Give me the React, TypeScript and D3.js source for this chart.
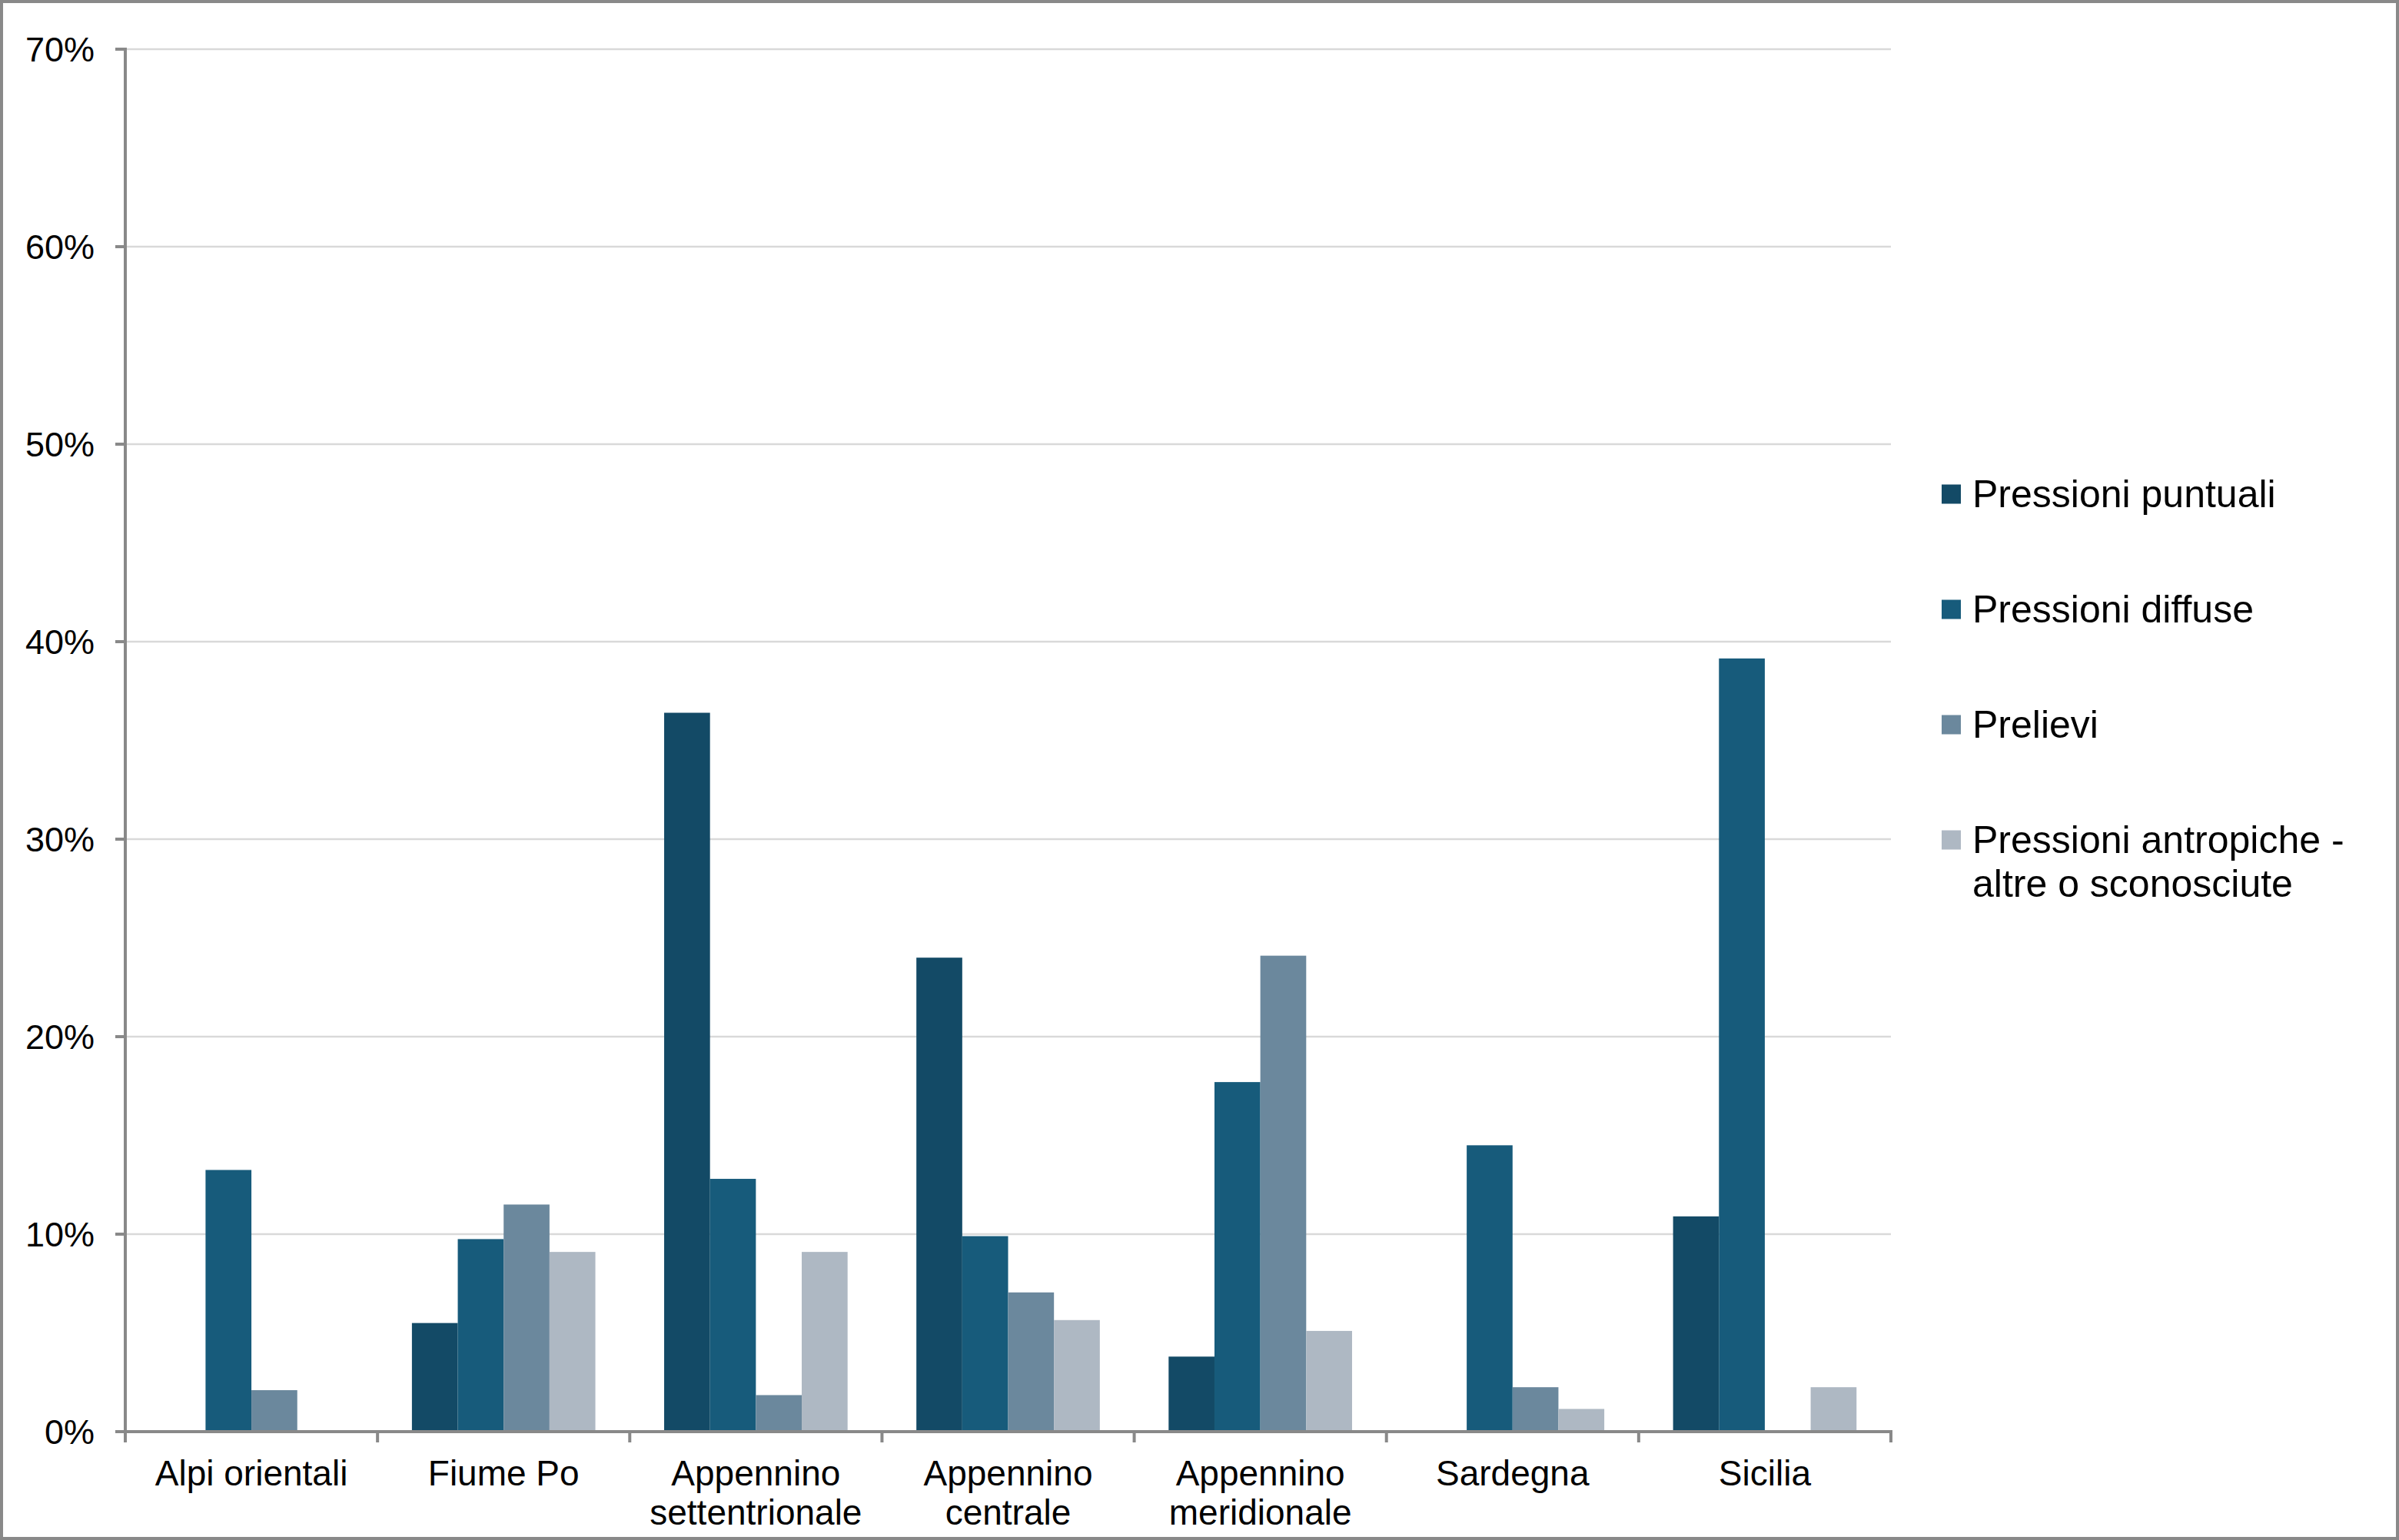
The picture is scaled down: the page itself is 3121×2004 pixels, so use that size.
import React from "react";
import * as d3 from "d3";

const categories: string[][] = [
  ["Alpi orientali"],
  ["Fiume Po"],
  ["Appennino", "settentrionale"],
  ["Appennino", "centrale"],
  ["Appennino", "meridionale"],
  ["Sardegna"],
  ["Sicilia"],
];

const seriesNames: string[][] = [
  ["Pressioni puntuali"],
  ["Pressioni diffuse"],
  ["Prelievi"],
  ["Pressioni antropiche -", "altre o sconosciute"],
];

const puntuali = [0, 5.5, 36.4, 24.0, 3.8, 0, 10.9];
const diffuse = [13.25, 9.75, 12.8, 9.9, 17.7, 14.5, 39.15];
const prelievi = [2.1, 11.5, 1.85, 7.05, 24.1, 2.25, 0];
const altre = [0, 9.1, 9.1, 5.65, 5.1, 1.15, 2.25];

const yTicks = [0, 10, 20, 30, 40, 50, 60, 70];
const colors = ["#134a66", "#175b7b", "#6b889d", "#aeb8c3"];

const W = 3121;
const H = 2004;
const FONT = "'Liberation Sans', Arial, sans-serif";

export default function App() {
  const series = [puntuali, diffuse, prelievi, altre];
  const left = 163;
  const right = 2460;
  const top = 64;
  const bottom = 1863;

  const x = d3
    .scaleBand<number>()
    .domain(d3.range(categories.length))
    .range([left, right])
    .paddingInner(0)
    .paddingOuter(0);
  const groupW = x.bandwidth();
  const barW = groupW / 5.5;
  const gap = (groupW - 4 * barW) / 2;
  const y = d3.scaleLinear().domain([0, 70]).range([bottom, top]);

  return (
    <svg
      width={W}
      height={H}
      style={{ position: "absolute", left: 0, top: 0, background: "#fff" }}
      fontFamily={FONT}
    >
      <rect x={0} y={0} width={W} height={H} fill="#fff" />
      {yTicks
        .filter((t) => t > 0)
        .map((t) => (
          <line
            key={"g" + t}
            x1={left}
            x2={right}
            y1={y(t)}
            y2={y(t)}
            stroke="#d9d9d9"
            strokeWidth={2.5}
          />
        ))}
      {series.map((vals, si) =>
        vals.map((v, ci) =>
          v > 0 ? (
            <rect
              key={`b${si}-${ci}`}
              x={(x(ci) as number) + gap + si * barW}
              y={y(v)}
              width={barW}
              height={bottom - y(v)}
              fill={colors[si]}
            />
          ) : null
        )
      )}
      {/* y axis */}
      <line x1={left} x2={left} y1={top - 2} y2={bottom + 2} stroke="#898989" strokeWidth={4} />
      {yTicks.map((t) => (
        <g key={"t" + t}>
          <line x1={left - 13} x2={left} y1={y(t)} y2={y(t)} stroke="#898989" strokeWidth={4} />
          <text
            x={123}
            y={y(t)}
            textAnchor="end"
            dominantBaseline="central"
            fontSize={45}
            fill="#000"
          >
            {t}%
          </text>
        </g>
      ))}
      {/* x axis */}
      <line x1={left - 2} x2={right + 2} y1={bottom} y2={bottom} stroke="#898989" strokeWidth={4} />
      {d3.range(categories.length + 1).map((i) => {
        const xx = left + i * groupW;
        return (
          <line key={"xt" + i} x1={xx} x2={xx} y1={bottom} y2={bottom + 14} stroke="#898989" strokeWidth={4} />
        );
      })}
      {categories.map((lines, ci) => (
        <text
          key={"c" + ci}
          x={(x(ci) as number) + groupW / 2}
          y={1917}
          textAnchor="middle"
          fontSize={46}
          fill="#000"
        >
          {lines.map((l, li) => (
            <tspan key={li} x={(x(ci) as number) + groupW / 2} y={1917 + li * 51} dominantBaseline="central">
              {l}
            </tspan>
          ))}
        </text>
      ))}
      {/* legend */}
      {seriesNames.map((lines, si) => {
        const cy = 643 + si * 150;
        return (
          <g key={"l" + si}>
            <rect x={2526} y={cy - 12.5} width={25} height={25} fill={colors[si]} />
            {lines.map((l, li) => (
              <text
                key={li}
                x={2566}
                y={cy + li * 57}
                dominantBaseline="central"
                fontSize={50}
                fill="#000"
              >
                {l}
              </text>
            ))}
          </g>
        );
      })}
      <rect x={2} y={2} width={W - 4} height={H - 4} fill="none" stroke="#898989" strokeWidth={4} />
    </svg>
  );
}
